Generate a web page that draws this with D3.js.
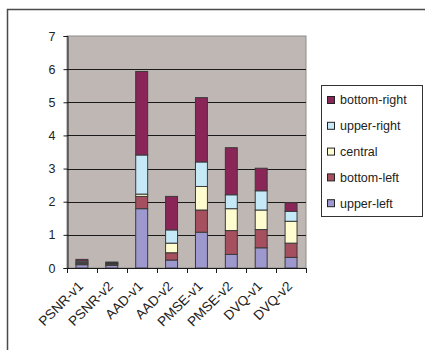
<!DOCTYPE html>
<html>
<head>
<meta charset="utf-8">
<script src="https://cdn.jsdelivr.net/npm/d3@7"></script>
<style>
  html, body { margin: 0; padding: 0; background: #ffffff; }
  svg { display: block; font-family: "Liberation Sans", Arial, sans-serif; }
</style>
</head>
<body>
<svg id="chart" width="425" height="350"></svg>
<script>
// Categories along the x axis
const categories = ["PSNR-v1", "PSNR-v2", "AAD-v1", "AAD-v2", "PMSE-v1", "PMSE-v2", "DVQ-v1", "DVQ-v2"];

// Stacked series, bottom to top
const upperLeft   = [0.10, 0.08, 1.79, 0.24, 1.08, 0.41, 0.61, 0.32];
const bottomLeft  = [0.04, 0.03, 0.37, 0.22, 0.67, 0.72, 0.55, 0.43];
const central     = [0.03, 0.02, 0.07, 0.29, 0.71, 0.66, 0.59, 0.66];
const upperRight  = [0.04, 0.02, 1.18, 0.40, 0.74, 0.42, 0.58, 0.30];
const bottomRight = [0.05, 0.03, 2.52, 1.01, 1.94, 1.42, 0.68, 0.26];

const seriesNames = ["upper-left", "bottom-left", "central", "upper-right", "bottom-right"];
const seriesValues = [upperLeft, bottomLeft, central, upperRight, bottomRight];
const seriesColors = ["#9d99cf", "#a64f5e", "#fffcd0", "#c6e9f8", "#8a2558"];

const yTicks = [0, 1, 2, 3, 4, 5, 6, 7];

const svg = d3.select("#chart");

// Outer chart frame
svg.append("rect")
  .attr("x", 7.5).attr("y", 9.5)
  .attr("width", 430).attr("height", 360)
  .attr("fill", "#ffffff")
  .attr("stroke", "#4a4a4a").attr("stroke-width", 1.5);

const plot = { left: 67, right: 306, top: 36, bottom: 268 };

const x = d3.scaleBand()
  .domain(categories)
  .range([plot.left, plot.right])
  .paddingInner(0.6).paddingOuter(0.3);

const xOuter = d3.scaleBand()
  .domain(categories)
  .range([plot.left, plot.right]);

const y = d3.scaleLinear()
  .domain([0, 7])
  .range([plot.bottom, plot.top]);

// Plot area background
svg.append("rect")
  .attr("x", plot.left).attr("y", plot.top)
  .attr("width", plot.right - plot.left).attr("height", plot.bottom - plot.top)
  .attr("fill", "#bfb7b4")
  .attr("stroke", "#8c8c8c").attr("stroke-width", 1);

// Horizontal gridlines
svg.append("g")
  .selectAll("line")
  .data(yTicks.filter(d => d > 0 && d < 7))
  .join("line")
  .attr("x1", plot.left).attr("x2", plot.right)
  .attr("y1", d => Math.round(y(d)) + 0.5).attr("y2", d => Math.round(y(d)) + 0.5)
  .attr("stroke", "#1a1a1a").attr("stroke-width", 1);

// Stacked data
const rows = categories.map((c, i) => {
  const r = { category: c };
  seriesNames.forEach((s, j) => { r[s] = seriesValues[j][i]; });
  return r;
});
const stacked = d3.stack().keys(seriesNames)(rows);

svg.append("g")
  .selectAll("g")
  .data(stacked)
  .join("g")
  .attr("fill", (d, i) => seriesColors[i])
  .selectAll("rect")
  .data(d => d)
  .join("rect")
  .attr("x", d => x(d.data.category))
  .attr("width", x.bandwidth())
  .attr("y", d => y(d[1]))
  .attr("height", d => y(d[0]) - y(d[1]))
  .attr("stroke", "#3a3a3a").attr("stroke-width", 1);

// Y axis
const yAxis = d3.axisLeft(y).tickValues(yTicks).tickFormat(d3.format("d")).tickSize(4).tickPadding(8);
const gy = svg.append("g")
  .attr("transform", `translate(${plot.left + 0.5},0)`)
  .call(yAxis);
gy.select(".domain").attr("stroke", "#1a1a1a");
gy.selectAll(".tick line").attr("stroke", "#1a1a1a");
gy.selectAll(".tick text").attr("font-size", 12.5).attr("fill", "#222");

// X axis: baseline, boundary ticks and rotated labels
const gx = svg.append("g");
gx.append("line")
  .attr("x1", plot.left).attr("x2", plot.right)
  .attr("y1", plot.bottom + 0.5).attr("y2", plot.bottom + 0.5)
  .attr("stroke", "#1a1a1a");
const boundaries = categories.map(c => xOuter(c)).concat([plot.right]);
gx.selectAll("line.tick")
  .data(boundaries)
  .join("line")
  .attr("class", "tick")
  .attr("x1", d => Math.round(d) + 0.5).attr("x2", d => Math.round(d) + 0.5)
  .attr("y1", plot.bottom).attr("y2", plot.bottom + 5)
  .attr("stroke", "#1a1a1a");
gx.selectAll("text")
  .data(categories)
  .join("text")
  .attr("transform", d => `translate(${xOuter(d) + xOuter.bandwidth() / 2 + 2},${plot.bottom + 19}) rotate(-45)`)
  .attr("text-anchor", "end")
  .attr("font-size", 13.5)
  .attr("fill", "#222")
  .text(d => d);

// Legend, top entry is the top of the stack
const legend = svg.append("g");
legend.append("rect")
  .attr("x", 321.5).attr("y", 85.5)
  .attr("width", 101).attr("height", 131)
  .attr("fill", "#ffffff")
  .attr("stroke", "#333").attr("stroke-width", 1);
const legendOrder = seriesNames.map((n, i) => ({ name: n, color: seriesColors[i] })).reverse();
const entries = legend.selectAll("g.entry")
  .data(legendOrder)
  .join("g")
  .attr("class", "entry")
  .attr("transform", (d, i) => `translate(327,${100 + i * 25.8})`);
entries.append("rect")
  .attr("x", 0.5).attr("y", -3.5)
  .attr("width", 7).attr("height", 7)
  .attr("fill", d => d.color)
  .attr("stroke", "#222").attr("stroke-width", 1);
entries.append("text")
  .attr("x", 13).attr("y", 0)
  .attr("dy", "0.35em")
  .attr("font-size", 12.5)
  .attr("fill", "#222")
  .text(d => d.name);
</script>
</body>
</html>
